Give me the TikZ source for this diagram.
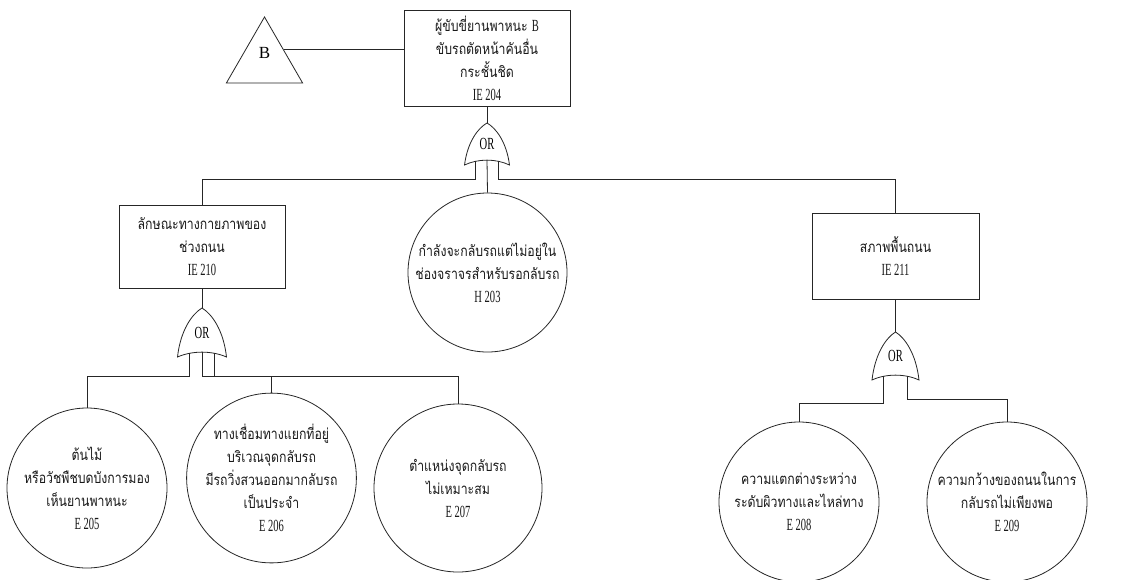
\documentclass[tikz,border=0pt]{standalone}
\usepackage{fontspec}
\setmainfont{Liberation Serif}
\newfontfamily\thaifnt[Script=Thai,FakeStretch=0.82]{Loma}
\newfontfamily\latfnt[FakeStretch=0.62]{Liberation Serif}
\usetikzlibrary{shapes.geometric,calc}
\tikzset{
  ln/.style={draw=black!85, line width=0.8pt},
  txt/.style={font=\fontsize{15}{23}\selectfont\thaifnt, align=center, text=black!90},
  evbox/.style={ln, txt, rectangle, inner sep=0pt},
  evcirc/.style={ln, txt, circle, inner sep=0pt},
  pics/orgate/.style 2 args={code={
    \draw[ln] (-#1/2,#2) .. controls (-#1/2+3,#2*0.45) and (-#1*0.2,#2*0.12) .. (0,0)
      .. controls (#1*0.2,#2*0.12) and (#1/2-3,#2*0.45) .. (#1/2,#2)
      .. controls (#1*0.2,#2-6.5) and (-#1*0.2,#2-6.5) .. cycle;
    \node[font=\fontsize{17}{17}\selectfont\latfnt, inner sep=0pt] (-lbl) at (0,#2*0.5) {OR};
    \coordinate (-top) at (0,0);
    \coordinate (-l) at (-#1/4,#2-4);
    \coordinate (-c) at (0,#2-5);
    \coordinate (-r) at (#1/4,#2-4);
  }}
}
\newcommand\lt[1]{{\latfnt\fontsize{17}{23}\selectfont #1}}
\begin{document}
\begin{tikzpicture}[x=1pt,y=-1pt]
\useasboundingbox[fill=white] (0,0) rectangle (1138,579);

% top event
\node[evbox, minimum width=166pt, minimum height=96pt] (ie204) at (487,58)
  {ผู้ขับขี่ยานพาหนะ \lt{B}\\ขับรถตัดหน้าคันอื่น\\กระชั้นชิด\\\lt{IE 204}};
\node[ln, regular polygon, regular polygon sides=3, minimum size=88pt, inner sep=0pt,
  label={[font=\fontsize{17}{17}\selectfont, yshift=8pt]center:B}] (tri) at (264.5,61) {};
\coordinate (trimid) at ($(tri.corner 1)!0.5!(tri.corner 3)$);
\draw[ln] (trimid) -- (trimid -| ie204.west);

\pic (g1) at (487,123) {orgate={45}{42}};
\draw[ln] (ie204.south) -- (g1-top);

% second level
\node[evbox, minimum width=166pt, minimum height=83pt] (ie210) at (202,246.5)
  {ลักษณะทางกายภาพของ\\ช่วงถนน\\\lt{IE 210}};
\node[evcirc, minimum size=159pt] (h203) at (487.5,272.5)
  {กำลังจะกลับรถแต่ไม่อยู่ใน\\ช่องจราจรสำหรับรอกลับรถ\\\lt{H 203}};
\node[evbox, minimum width=167pt, minimum height=86pt] (ie211) at (895.5,256)
  {สภาพพื้นถนน\\\lt{IE 211}};

\coordinate (busA) at (0,179);
\draw[ln] (g1-l) -- (g1-l |- busA) -| (ie210.north);
\draw[ln] (g1-c) -- (h203.north);
\draw[ln] (g1-r) -- (g1-r |- busA) -| (ie211.north);

% left gate
\pic (g2) at (202,308) {orgate={49}{49}};
\draw[ln] (ie210.south) -- (g2-top);
\node[evcirc, minimum size=160pt] (e205) at (87,488)
  {ต้นไม้\\หรือวัชพืชบดบังการมอง\\เห็นยานพาหนะ\\\lt{E 205}};
\node[evcirc, minimum size=164pt] (e206) at (271.5,478)
  {ทางเชื่อมทางแยกที่อยู่\\บริเวณจุดกลับรถ\\มีรถวิ่งสวนออกมากลับรถ\\เป็นประจำ\\\lt{E 206}};
\node[evcirc, minimum size=168pt] (e207) at (458,488)
  {ตำแหน่งจุดกลับรถ\\ไม่เหมาะสม\\\lt{E 207}};
\coordinate (busB) at (0,376);
\draw[ln] (g2-l) -- (g2-l |- busB) -| (e205.north);
\draw[ln] (g2-c) -- (g2-c |- busB) -| (e207.north);
\draw[ln] (g2-r) -- (g2-r |- busB) -| (e206.north);

% right gate
\pic (g3) at (895.5,332) {orgate={47}{48}};
\draw[ln] (ie211.south) -- (g3-top);
\node[evcirc, minimum size=160pt] (e208) at (799,502)
  {ความแตกต่างระหว่าง\\ระดับผิวทางและไหล่ทาง\\\lt{E 208}};
\node[evcirc, minimum size=160pt] (e209) at (1007,502)
  {ความกว้างของถนนในการ\\กลับรถไม่เพียงพอ\\\lt{E 209}};
\coordinate (busC) at (0,403);
\coordinate (busD) at (0,399);
\draw[ln] (g3-l) -- (g3-l |- busC) -| (e208.north);
\draw[ln] (g3-r) -- (g3-r |- busD) -| (e209.north);
\end{tikzpicture}
\end{document}
